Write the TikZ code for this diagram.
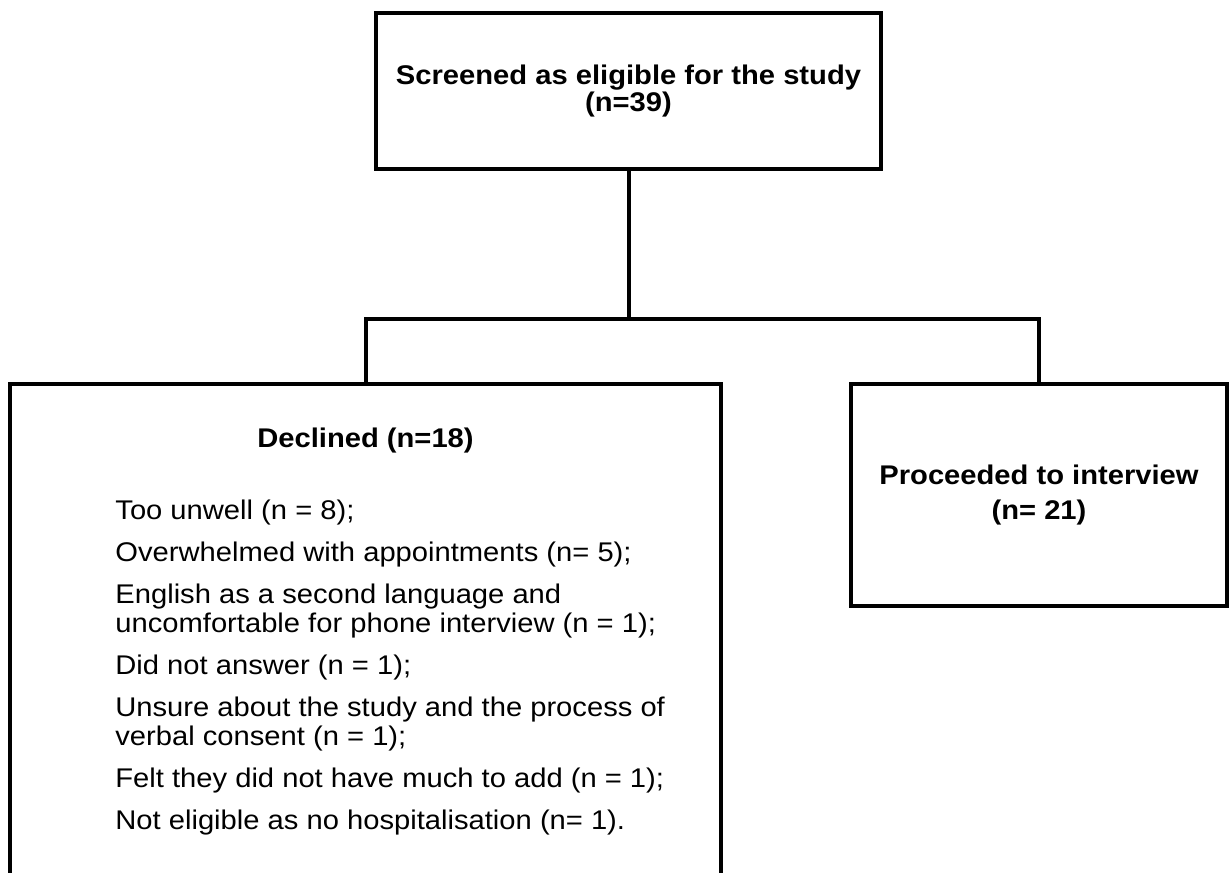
\documentclass[tikz,border=0pt]{standalone}
\usepackage{fontspec}
\setmainfont{Liberation Sans}[FakeStretch=1.08]
\usepackage{tikz}

\begin{document}
\begin{tikzpicture}[x=0.5pt,y=-0.5pt,
  box/.style={draw,line width=2pt,inner sep=0pt},
  head/.style={font=\bfseries\fontsize{13.5}{13.5}\selectfont},
  reason/.style={anchor=base west,inner sep=0pt,font=\fontsize{13.5}{16}\selectfont}]
\useasboundingbox (0,0) rectangle (1229,872);
\clip (0,0) rectangle (1229,872);
%\draw[help lines] (0,0) grid (1229,872);
\node (screened) [box,head,align=center,minimum width=252.5pt,minimum height=78pt] at (628.5,91) {Screened as eligible for the study\\(n=39)};
\node (declined) [box,minimum width=355.5pt,minimum height=258pt] at (365.5,642) {};
\node (proceeded) [box,head,align=center,minimum width=188pt,minimum height=111pt,font=\bfseries\fontsize{13.5}{17.5}\selectfont] at (1039,495) {Proceeded to interview\\(n= 21)};
\coordinate (split) at (628.5,319);
\node (dtitle) [head,anchor=base,inner sep=0pt] at (365.5,447) {Declined (n=18)};
\node (r1) [reason] at (115,519) {Too unwell (n = 8);};
\node (r2) [reason] at (115,561) {Overwhelmed with appointments (n= 5);};
\node (r3) [reason] at (115,603) {English as a second language and};
\node (r4) [reason] at (115,632) {uncomfortable for phone interview (n = 1);};
\node (r5) [reason] at (115,674) {Did not answer (n = 1);};
\node (r6) [reason] at (115,716) {Unsure about the study and the process of};
\node (r7) [reason] at (115,745) {verbal consent (n = 1);};
\node (r8) [reason] at (115,787) {Felt they did not have much to add (n = 1);};
\node (r9) [reason] at (115,829) {Not eligible as no hospitalisation (n= 1).};
\draw[line width=2pt] (screened.south) -- (split);
\draw[line width=2pt] (declined.north) |- (split) -| (proceeded.north);
\end{tikzpicture}
\end{document}
